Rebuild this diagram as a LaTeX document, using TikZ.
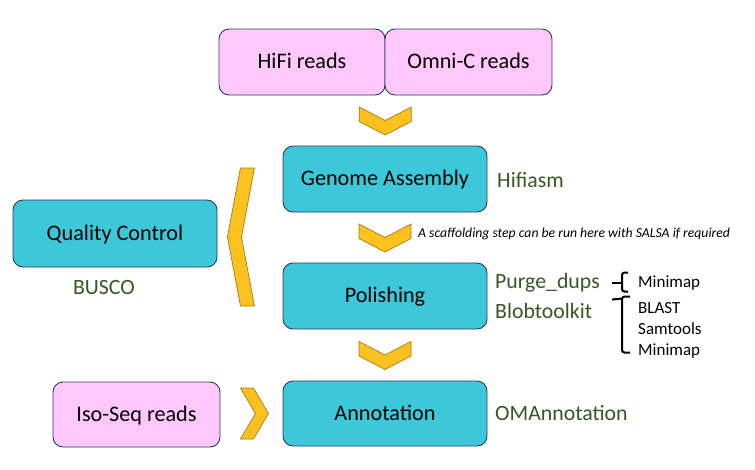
\documentclass[tikz,border=0pt]{standalone}
\usepackage{fontspec}
\setmainfont{Carlito}
\usetikzlibrary{calc}
\definecolor{pinkf}{RGB}{255,200,250}
\definecolor{tealf}{RGB}{60,200,216}
\definecolor{edgec}{RGB}{47,56,100}
\definecolor{chevf}{RGB}{252,193,30}
\definecolor{chevd}{RGB}{165,125,20}
\definecolor{toolc}{RGB}{56,87,35}
\begin{document}
\begin{tikzpicture}[x=1pt,y=-1pt,
  box/.style={draw=edgec, line width=0.9pt, rounded corners=10pt, inner sep=0pt,
    text height=13.5pt, text depth=0pt, font=\fontsize{22.2}{25}\selectfont},
  reads/.style={box, fill=pinkf},
  stepbox/.style={box, fill=tealf},
  tool/.style={text=toolc, font=\fontsize{21.8}{25}\selectfont, inner sep=0pt, anchor=base west},
  sub/.style={font=\fontsize{17}{20}\selectfont, inner sep=0pt, anchor=base west},
  chev/.style={fill=chevf, draw=chevd, line width=0.7pt, line join=miter},
  bracec/.style={line width=2pt, rounded corners=2.5pt},
  downchev/.pic={\draw[chev] (-26,-13.5) -- (0,0) -- (26,-13.5) -- (26,1) -- (0,14.5) -- (-26,1) -- cycle;},
  rightchev/.pic={\draw[chev] (-14,-25.5) -- (-1,-25.5) -- (14,0) -- (-1,25.5) -- (-14,25.5) -- (1,0) -- cycle;},
  leftchev/.pic={\draw[chev] (0,-69) -- (14,-69) -- (1,0) -- (14,69) -- (0,69) -- (-13,0) -- cycle;}]
\useasboundingbox (0,0) rectangle (755,469);

% input reads
\node[reads, minimum width=166, minimum height=66] (hifi) at (302,62) {HiFi reads};
\node[reads, minimum width=167, minimum height=66] (omni) at (468.5,62) {Omni-C reads};
\node[reads, minimum width=167, minimum height=65] (iso) at (136.5,414.5) {Iso-Seq reads};

% steps
\node[stepbox, minimum width=204, minimum height=66] (ga) at (385,179) {Genome Assembly};
\node[stepbox, minimum width=204, minimum height=66] (pol) at (385,296) {Polishing};
\node[stepbox, minimum width=204, minimum height=65] (ann) at (385,413.5) {Annotation};
\node[stepbox, minimum width=204, minimum height=67] (qc) at (115,233.5) {Quality Control};

% tools
\node[tool] (hifiasm) at (497,187) {Hifiasm};
\node[tool, anchor=base] (busco) at (104,294) {BUSCO};
\node[tool] (purge) at (495,288) {Purge\_dups};
\node[tool] (blob) at (495,318) {Blobtoolkit};
\node[tool] (oma) at (495,420) {OMAnnotation};

\node[sub] (mm1) at (638,287) {Minimap};
\node[sub] (blast) at (638,313) {BLAST};
\node[sub] (sam) at (638,334) {Samtools};
\node[sub] (mm2) at (638,355) {Minimap};

\node[anchor=base west, inner sep=0pt, font=\itshape\fontsize{13.7}{16}\selectfont] (note) at (418,237)
  {A scaffolding step can be run here with SALSA if required};

% chevrons
\coordinate (c1) at ($(hifi.south east)!0.5!(ga.north)$);
\coordinate (c2) at ($(ga.south)!0.5!(pol.north)$);
\coordinate (c3) at ($(pol.south)!0.5!(ann.north)$);
\coordinate (c4) at ($(iso.east)+(34,-1)$);
\coordinate (c5) at ($(qc.east)+(23,3.5)$);
\pic at (c1) {downchev};
\pic at (c2) {downchev};
\pic at (c3) {downchev};
\pic at (c4) {rightchev};
\pic at (c5) {leftchev};

% braces
\draw[bracec] ($(mm1.west)+(-10,-10)$) -| ($(mm1.west)+(-16,0)$) |- ($(mm1.west)+(-10,9)$);
\draw[line width=2pt] ($(mm1.west)+(-16,0)$) -- ($(mm1.west)+(-26,0)$);
\draw[bracec] ($(blast.west)+(-8,-11)$) -| ($(mm2.west)+(-16,-3)$) |- ($(mm2.west)+(-8,2)$);
\draw[line width=2pt] ($(blast.west)+(-16,-9)$) -- ($(blast.west)+(-26,-8)$);
\end{tikzpicture}
\end{document}
